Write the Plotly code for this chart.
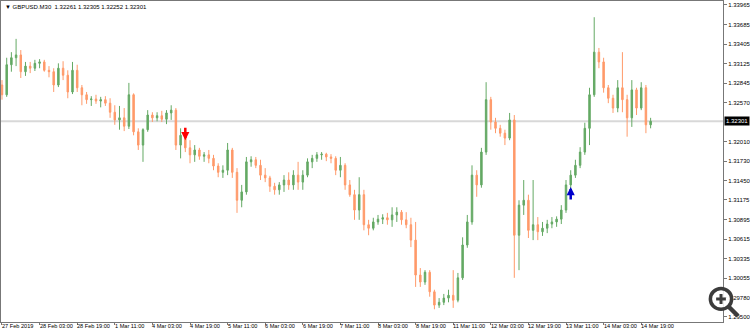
import plotly.graph_objects as go

# GBPUSD candles (2-hour aggregation of the M30 chart)
opens = [1.3282,1.3268,1.3311,1.3321,1.3325,1.3301,1.3309,1.3306,1.3313,1.3315,
         1.3303,1.3301,1.3282,1.3306,1.3296,1.3272,1.3303,1.3278,1.3268,1.3261,
         1.3262,1.3259,1.3261,1.3256,1.3243,1.3232,1.3235,1.3223,1.3268,1.3215,
         1.3196,1.3218,1.3239,1.3235,1.3238,1.3233,1.3242,1.3246,1.3196,1.3210,
         1.3192,1.3182,1.3189,1.3180,1.3182,1.3177,1.3166,1.3157,1.3160,1.3189,
         1.3157,1.3117,1.3129,1.3172,1.3175,1.3167,1.3153,1.3149,1.3137,1.3132,
         1.3139,1.3146,1.3139,1.3153,1.3143,1.3153,1.3172,1.3177,1.3182,1.3183,
         1.3179,1.3177,1.3160,1.3167,1.3139,1.3125,1.3103,1.3125,1.3082,1.3077,
         1.3086,1.3090,1.3092,1.3089,1.3096,1.3100,1.3089,1.3082,1.3060,1.3010,
         1.3000,1.3014,1.2986,1.2967,1.2971,1.2977,1.2981,1.2974,1.3006,1.3053,
         1.3086,1.3153,1.3139,1.3186,1.3261,1.3229,1.3220,1.3213,1.3206,1.3232,
         1.3067,1.3110,1.3117,1.3074,1.3082,1.3072,1.3077,1.3083,1.3086,1.3090,
         1.3103,1.3139,1.3153,1.3167,1.3186,1.3220,1.3268,1.3329,1.3315,1.3278,
         1.3263,1.3249,1.3278,1.3261,1.3235,1.3275,1.3249,1.3278,1.3225]
highs = [1.3289,1.3321,1.3329,1.3348,1.3332,1.3315,1.3315,1.3318,1.3319,1.3318,
         1.3309,1.3306,1.3313,1.3316,1.3303,1.3315,1.3311,1.3282,1.3272,1.3266,
         1.3268,1.3265,1.3266,1.3263,1.3253,1.3252,1.3249,1.3285,1.3270,1.3220,
         1.3220,1.3246,1.3243,1.3243,1.3245,1.3246,1.3253,1.3249,1.3220,1.3218,
         1.3203,1.3196,1.3192,1.3186,1.3189,1.3182,1.3170,1.3167,1.3199,1.3192,
         1.3163,1.3139,1.3179,1.3180,1.3179,1.3175,1.3163,1.3152,1.3142,1.3143,
         1.3153,1.3157,1.3160,1.3172,1.3160,1.3177,1.3182,1.3186,1.3186,1.3185,
         1.3183,1.3180,1.3179,1.3170,1.3146,1.3132,1.3150,1.3132,1.3089,1.3092,
         1.3096,1.3097,1.3099,1.3107,1.3107,1.3103,1.3100,1.3092,1.3086,1.3020,
         1.3017,1.3017,1.2989,1.2977,1.2983,1.2989,1.3017,1.3013,1.3064,1.3096,
         1.3167,1.3160,1.3192,1.3286,1.3265,1.3235,1.3225,1.3218,1.3242,1.3239,
         1.3117,1.3146,1.3125,1.3146,1.3093,1.3086,1.3089,1.3093,1.3094,1.3110,
         1.3146,1.3160,1.3175,1.3193,1.3228,1.3278,1.3379,1.3335,1.3321,1.3282,
         1.3268,1.3289,1.3329,1.3268,1.3289,1.3278,1.3286,1.3282,1.3235]
lows = [1.3261,1.3265,1.3301,1.3309,1.3292,1.3295,1.3299,1.3302,1.3306,1.3301,
        1.3293,1.3272,1.3279,1.3289,1.3263,1.3269,1.3272,1.3253,1.3255,1.3252,
        1.3255,1.3250,1.3252,1.3235,1.3225,1.3218,1.3216,1.3219,1.3210,1.3189,
        1.3172,1.3215,1.3229,1.3230,1.3229,1.3226,1.3232,1.3189,1.3177,1.3186,
        1.3170,1.3172,1.3175,1.3172,1.3170,1.3160,1.3150,1.3149,1.3153,1.3149,
        1.3099,1.3107,1.3125,1.3165,1.3163,1.3146,1.3143,1.3129,1.3125,1.3125,
        1.3129,1.3132,1.3132,1.3132,1.3132,1.3150,1.3163,1.3172,1.3175,1.3173,
        1.3170,1.3153,1.3150,1.3132,1.3122,1.3089,1.3089,1.3074,1.3067,1.3074,
        1.3082,1.3083,1.3082,1.3079,1.3086,1.3082,1.3077,1.3050,1.2993,1.2993,
        1.2996,1.2979,1.2961,1.2963,1.2967,1.2971,1.2963,1.2971,1.3003,1.3049,
        1.3082,1.3122,1.3135,1.3182,1.3218,1.3213,1.3208,1.3196,1.3203,1.3006,
        1.3017,1.3096,1.3063,1.3060,1.3060,1.3066,1.3070,1.3077,1.3079,1.3083,
        1.3099,1.3132,1.3149,1.3163,1.3182,1.3196,1.3265,1.3306,1.3271,1.3256,
        1.3242,1.3243,1.3243,1.3208,1.3222,1.3239,1.3246,1.3213,1.3220]
closes = [1.3268,1.3311,1.3321,1.3325,1.3301,1.3309,1.3306,1.3313,1.3315,1.3303,
          1.3301,1.3282,1.3306,1.3296,1.3272,1.3303,1.3278,1.3268,1.3261,1.3262,
          1.3259,1.3261,1.3256,1.3243,1.3232,1.3235,1.3223,1.3268,1.3215,1.3196,
          1.3218,1.3239,1.3235,1.3238,1.3233,1.3242,1.3246,1.3196,1.3210,1.3192,
          1.3182,1.3189,1.3180,1.3182,1.3177,1.3166,1.3157,1.3160,1.3189,1.3157,
          1.3117,1.3129,1.3172,1.3175,1.3167,1.3153,1.3149,1.3137,1.3132,1.3139,
          1.3146,1.3139,1.3153,1.3143,1.3153,1.3172,1.3177,1.3182,1.3183,1.3179,
          1.3177,1.3160,1.3167,1.3139,1.3125,1.3103,1.3125,1.3082,1.3077,1.3086,
          1.3090,1.3092,1.3089,1.3096,1.3100,1.3089,1.3082,1.3060,1.3010,1.3000,
          1.3014,1.2986,1.2967,1.2971,1.2977,1.2981,1.2974,1.3006,1.3053,1.3086,
          1.3153,1.3139,1.3186,1.3261,1.3229,1.3220,1.3213,1.3206,1.3232,1.3067,
          1.3110,1.3117,1.3074,1.3082,1.3072,1.3077,1.3083,1.3086,1.3090,1.3103,
          1.3139,1.3153,1.3167,1.3186,1.3220,1.3268,1.3329,1.3315,1.3278,1.3263,
          1.3249,1.3278,1.3261,1.3235,1.3275,1.3249,1.3278,1.3225,1.32301]

time_labels = ["27 Feb 2019", "28 Feb 03:00", "28 Feb 19:00", "1 Mar 11:00", "4 Mar 03:00",
               "4 Mar 19:00", "5 Mar 11:00", "6 Mar 03:00", "6 Mar 19:00", "7 Mar 11:00",
               "8 Mar 03:00", "8 Mar 19:00", "11 Mar 11:00", "12 Mar 03:00", "12 Mar 19:00",
               "13 Mar 11:00", "14 Mar 03:00", "14 Mar 19:00"]
bars_per_label = 8

price_ticks = [1.33965, 1.33685, 1.33405, 1.33125, 1.32845, 1.32570, 1.32010, 1.31730,
               1.31450, 1.31175, 1.30895, 1.30615, 1.30335, 1.30055, 1.29780, 1.29500]
price_tick_text = ["1.33965", "1.33685", "1.33405", "1.33125", "1.32845", "1.32570", "1.32010",
                   "1.31730", "1.31450", "1.31175", "1.30895", "1.30615", "1.30335", "1.30055",
                   "1.29780", "1.29500"]

last_bar = {"open": "1.32261", "high": "1.32305", "low": "1.32252", "close": "1.32301"}
last_price = 1.32301

sell_signal_bar = [39]
sell_signal_price = [1.3203]
buy_signal_bar = [121]
buy_signal_price = [1.3136]

FONT = "Liberation Sans, Arial, sans-serif"
FS = 6
FS_X = 5.6
GREEN = "#64A964"
ORANGE = "#FF9A6A"

x = list(range(len(closes)))
tick_positions = [i * bars_per_label for i in range(len(time_labels))]

fig = go.Figure()
fig.add_trace(go.Candlestick(
    x=x, open=opens, high=highs, low=lows, close=closes,
    increasing=dict(line=dict(color=GREEN, width=1), fillcolor=GREEN),
    decreasing=dict(line=dict(color=ORANGE, width=1), fillcolor=ORANGE),
    whiskerwidth=0, hoverinfo="skip", showlegend=False,
))

annotations = []
for b, p in zip(sell_signal_bar, sell_signal_price):
    annotations.append(dict(x=b, y=p, xref="x", yref="y", text="", showarrow=True,
                            ax=0, ay=-14, arrowhead=2, arrowsize=0.65, arrowwidth=2.5,
                            arrowcolor="#FF0000"))
for b, p in zip(buy_signal_bar, buy_signal_price):
    annotations.append(dict(x=b, y=p, xref="x", yref="y", text="", showarrow=True,
                            ax=0, ay=14, arrowhead=2, arrowsize=0.65, arrowwidth=2.5,
                            arrowcolor="#0000CC"))

# time labels, left-aligned at their tick like the terminal draws them
for pos, lab in zip(tick_positions, time_labels):
    annotations.append(dict(x=pos, y=0, xref="x", yref="paper", xanchor="left", yanchor="top",
                            xshift=-1, yshift=0, showarrow=False, text=lab, borderpad=0,
                            font=dict(family=FONT, size=FS_X, color="#000000")))

# header
annotations.append(dict(
    x=0, y=1, xref="paper", yref="paper", xanchor="left", yanchor="top",
    xshift=2, yshift=-1, showarrow=False,
    text="▼ GBPUSD.M30  %s %s %s %s" % (last_bar["open"], last_bar["high"], last_bar["low"], last_bar["close"]),
    font=dict(family=FONT, size=FS, color="#000000")))
# current price label
annotations.append(dict(
    x=1, y=last_price, xref="paper", yref="y", xanchor="left", yanchor="middle",
    xshift=1, showarrow=False, text="%.5f" % last_price,
    font=dict(family=FONT, size=FS, color="#FFFFFF"), bgcolor="#000000", borderpad=1))

shapes = [
    dict(type="line", xref="paper", yref="y", x0=0, x1=1, y0=last_price, y1=last_price,
         line=dict(color="#D8D8D8", width=2), layer="below"),
    # zoom magnifier overlay icon
    dict(type="circle", xref="paper", yref="paper", x0=0.9825, x1=1.0120, y0=0.040, y1=0.104,
         line=dict(color="#3C3C3C", width=3.5), fillcolor="rgba(255,255,255,0.85)"),
    dict(type="line", xref="paper", yref="paper", x0=0.9905, x1=1.0040, y0=0.0717, y1=0.0717,
         line=dict(color="#3C3C3C", width=3)),
    dict(type="line", xref="paper", yref="paper", x0=0.99725, x1=0.99725, y0=0.0561, y1=0.0872,
         line=dict(color="#3C3C3C", width=3)),
    dict(type="line", xref="paper", yref="paper", x0=1.0083, x1=1.0208, y0=0.0467, y1=0.0187,
         line=dict(color="#3C3C3C", width=4.5)),
]

fig.update_layout(
    width=750, height=330,
    margin=dict(l=1, r=27, t=1, b=8, autoexpand=False),
    paper_bgcolor="#FFFFFF", plot_bgcolor="#FFFFFF",
    showlegend=False, boxgap=0.55,
    annotations=annotations, shapes=shapes,
    font=dict(family=FONT, size=FS, color="#000000"),
)
fig.update_xaxes(
    range=[-0.21, 153.4], rangeslider=dict(visible=False),
    tickmode="array", tickvals=tick_positions, showticklabels=False,
    ticks="outside", ticklen=2, tickcolor="#777777", automargin=False,
    showgrid=False, zeroline=False, showline=True, linecolor="#777777", linewidth=1, mirror=True,
)
fig.update_yaxes(
    range=[1.29428, 1.34022], side="right", automargin=False,
    tickmode="array", tickvals=price_ticks, ticktext=price_tick_text,
    ticks="outside", ticklen=3, tickcolor="#777777", ticklabelstandoff=0,
    showgrid=False, zeroline=False, showline=True, linecolor="#777777", linewidth=1, mirror=True,
    tickfont=dict(family=FONT, size=FS, color="#000000"),
)

fig.write_html("out.html")
